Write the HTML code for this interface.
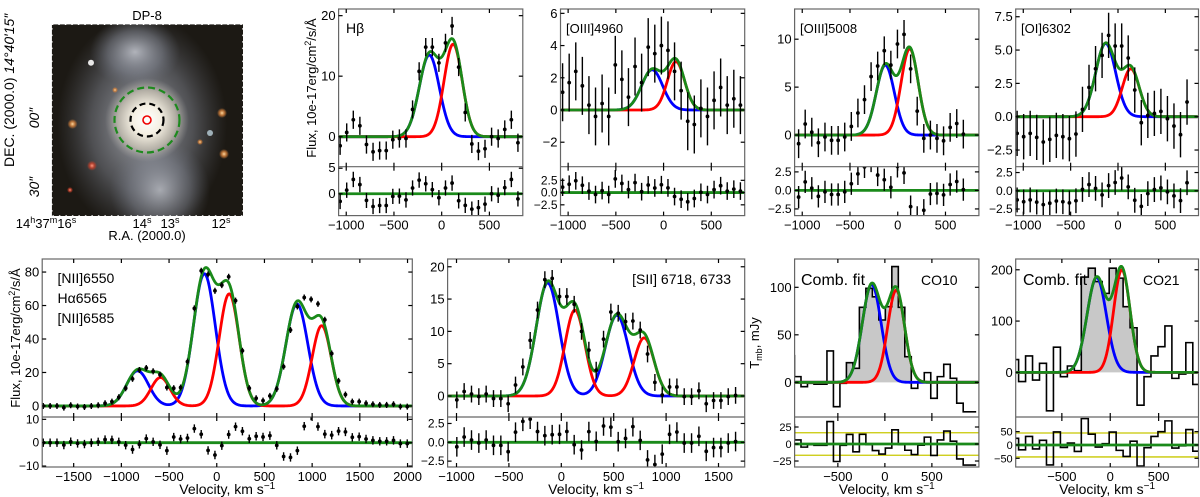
<!DOCTYPE html>
<html><head><meta charset="utf-8"><style>
html,body{margin:0;padding:0;background:#fff;}
svg{display:block;font-family:"Liberation Sans","DejaVu Sans",sans-serif;}
</style></head><body>
<svg id="fig" width="1200" height="497" viewBox="0 0 1200 497" xmlns="http://www.w3.org/2000/svg">
<defs>
<radialGradient id="halo" cx="50%" cy="50%" r="50%"><stop offset="0" stop-color="#c4c7cf" stop-opacity="0.85"/><stop offset="0.6" stop-color="#8e93a0" stop-opacity="0.45"/><stop offset="1" stop-color="#6a6f7c" stop-opacity="0"/></radialGradient>
<radialGradient id="core" cx="50%" cy="50%" r="50%"><stop offset="0" stop-color="#ffffff"/><stop offset="0.35" stop-color="#f4efe2"/><stop offset="0.7" stop-color="#cfc8b8" stop-opacity="0.7"/><stop offset="1" stop-color="#a9a9a9" stop-opacity="0"/></radialGradient>
<radialGradient id="star" cx="50%" cy="50%" r="50%"><stop offset="0" stop-color="#ffd9a0"/><stop offset="0.5" stop-color="#d9823a" stop-opacity="0.8"/><stop offset="1" stop-color="#d9823a" stop-opacity="0"/></radialGradient>
<radialGradient id="rstar" cx="50%" cy="50%" r="50%"><stop offset="0" stop-color="#ff9a80"/><stop offset="0.5" stop-color="#c8402a" stop-opacity="0.8"/><stop offset="1" stop-color="#c8402a" stop-opacity="0"/></radialGradient>
<clipPath id="imgclip"><rect x="51.8" y="24.3" width="191.2" height="191.7"/></clipPath>
</defs>

<g>
<text x="147" y="20" font-size="13" text-anchor="middle">DP-8</text>
<g clip-path="url(#imgclip)">
<rect x="51.8" y="24.3" width="191.2" height="191.7" fill="#1c1914"/>
<ellipse cx="142" cy="125" rx="85" ry="110" fill="url(#halo)"/>
<ellipse cx="135" cy="52" rx="45" ry="35" fill="url(#halo)"/>
<ellipse cx="160" cy="190" rx="50" ry="50" fill="url(#halo)" opacity="0.9"/>
<circle cx="147" cy="120" r="42" fill="url(#core)"/>
<circle cx="91" cy="62.7" r="3" fill="#e8e8e8"/>
<circle cx="72.5" cy="124" r="5" fill="url(#star)"/>
<circle cx="92" cy="165.7" r="5" fill="url(#rstar)"/>
<circle cx="222" cy="113" r="5" fill="url(#star)"/>
<circle cx="224" cy="154" r="5" fill="url(#star)"/>
<circle cx="115" cy="90" r="3" fill="url(#star)"/>
<circle cx="200" cy="142" r="3" fill="url(#star)"/>
<circle cx="210" cy="133" r="3" fill="#9fb0b8"/>
<circle cx="70" cy="190" r="3" fill="url(#rstar)"/>
</g>
<rect x="51.8" y="24.3" width="191.2" height="191.7" fill="none" stroke="#fff" stroke-width="1.5" stroke-dasharray="1.5 5"/>
<circle cx="147" cy="120" r="32.5" fill="none" stroke="#1e8a1e" stroke-width="2.2" stroke-dasharray="7 4"/>
<circle cx="147" cy="120" r="16.5" fill="none" stroke="#000" stroke-width="2.2" stroke-dasharray="6 4"/>
<circle cx="147" cy="120" r="4" fill="none" stroke="#e00" stroke-width="1.6"/>
<text transform="translate(14,167) rotate(-90)" font-size="14">DEC. (2000.0) <tspan font-style="italic">14°40′15″</tspan></text>
<text transform="translate(39,118) rotate(-90)" font-size="14" font-style="italic" text-anchor="middle">00″</text>
<text transform="translate(39,187) rotate(-90)" font-size="14" font-style="italic" text-anchor="middle">30″</text>
<text x="46" y="228" font-size="13" text-anchor="middle">14<tspan font-size="9" dy="-5">h</tspan><tspan dy="5">37</tspan><tspan font-size="9" dy="-5">m</tspan><tspan dy="5">16</tspan><tspan font-size="9" dy="-5">s</tspan></text>
<text x="142" y="228" font-size="13" text-anchor="middle">14<tspan font-size="9" dy="-5">s</tspan></text>
<text x="170" y="228" font-size="13" text-anchor="middle">13<tspan font-size="9" dy="-5">s</tspan></text>
<text x="221" y="228" font-size="13" text-anchor="middle">12<tspan font-size="9" dy="-5">s</tspan></text>
<text x="147" y="240" font-size="13" text-anchor="middle">R.A. (2000.0)</text>
</g>

<text transform="translate(316,88) rotate(-90)" font-size="13" text-anchor="middle">Flux, 10e-17erg/cm<tspan font-size="9" dy="-5">2</tspan><tspan dy="5">/s/Å</tspan></text>
<text transform="translate(20,338) rotate(-90)" font-size="13" text-anchor="middle">Flux, 10e-17erg/cm<tspan font-size="9" dy="-5">2</tspan><tspan dy="5">/s/Å</tspan></text>
<text transform="translate(759,343) rotate(-90)" font-size="13" text-anchor="middle">T<tspan font-size="9" dy="3">mb</tspan><tspan dy="-3">, mJy</tspan></text>
</svg>

<script>
// ---------- DATA ----------
// H-beta
const hbVelStart = -1064, hbVelStep = 69;
const hbFlux = [-1.5,0.7,2.8,1.8,-1.3,-2.5,-2.3,-2.3,-0.5,-0.3,-0.3,4.5,10.8,14.8,14.8,12.2,15.5,18.3,11.5,4,-1.2,-2.4,-2,0,-0.3,1.2,2.8,-1];
const hbBlue = [[13.5,-130,105]];
const hbRed = [[15.3,120,95]];
// [OIII]4960
const o4VelStart = -1058, o4VelStep = 69;
const o4Flux = [1.1,1.7,2.4,1.5,0.3,-0.4,0.4,-0.4,2.8,1.9,0.8,2.7,1.7,3.9,3.5,4.0,3.7,2.4,1.2,-0.7,-0.9,0.1,-0.4,0.6,1.4,0.3,0.7,0.3];
const o4Blue = [[2.5,-120,110]];
const o4Red = [[3.0,130,90]];
// [OIII]5008
const o5VelStart = -1038, o5VelStep = 69;
const o5Flux = [-0.9,1.15,0.3,-0.8,-0.2,-0.55,-0.55,-0.2,0.9,2.3,3.7,6.1,7.2,8.8,7.3,9.5,10.5,6.9,2.5,-0.35,0,-0.35,-0.6,0.8,1.2,0.1];
const o5Blue = [[7.3,-130,95]];
const o5Red = [[9.0,125,90]];
// [OI]6302
const oiVelStart = -1065, oiVelStep = 69;
const oiFlux = [-1.25,-1.5,-1.25,-1.55,-1.9,-1.7,-1.4,-1.5,-1.65,-1.3,0.55,2.2,3.6,4.6,6.1,5.3,5.3,4.4,2.0,-0.45,0.1,0.25,0.4,-0.15,-0.7,-1.35,1.1];
const oiBlue = [[5.5,-130,105]];
const oiRed = [[3.6,135,90]];
// [NII]+Halpha
const niVelStart = -1819, niVelStep = 72;
const niFlux = [0,0,0,-1,0.4,-0.3,-0.6,0,0.4,1.6,2.6,5.2,10.6,16.2,21.5,22.7,20.7,18.7,11,10.6,11,26.5,58.3,80.8,78.6,68.8,72.2,77.2,62.9,33,10.6,4.6,3.2,6,10.2,23.5,45.4,59.4,64.8,63.7,61,51.5,31.3,15,6.8,2.6,2.6,1.6,1,0.6,0.6,1,-0.4,-0.4,0.2];
const niBlue = [[21,-830,115],[79,-130,115],[61,840,115]];
const niRed = [[17,-590,100],[67,130,105],[48,1100,100]];
// [SII]
const siVelStart = -997, siVelStep = 70;
const siFlux = [-0.6,0.7,0.3,-0.1,0.3,-0.4,-0.4,-1.2,1.7,4.5,8.6,13.3,18,18.2,15.4,15.4,14.2,10,7.1,4,8.8,13,12.8,11.5,11.6,10.2,6.5,2.1,0.15,1.4,1.4,-0.1,-0.1,0.8,-1.2,-0.7,-0.7,-0.1,0.1];
const siBlue = [[17.5,-130,110],[12.5,530,110]];
const siRed = [[13.3,130,95],[9,790,95]];
// CO10 histogram
const c1BinStart = -1030, c1BinWidth = 69;
const c1Tmb = [28,6,-4.6,-1,-2,-2,33,-25.6,-1,20.7,14.7,79,99,90,65.6,79.6,121.8,79,27,-6.3,-0.4,10.2,-16.8,6,19,4.2,-22,-31,-31];
const c1Shaded = [9,18];
const c1Blue = [[103,-140,100]];
const c1Red = [[97,120,90]];
const c1Noise = 16.5;
// CO21 histogram
const c2BinStart = -1019, c2BinWidth = 72;
const c2Tmb = [25,-18,32,-15,17.6,-75,49,-8.5,12.4,3.3,185.7,203,177,154,203,183.7,128,87,-64,-8.5,32,50,90.5,-11.7,-3.3,58,-23.5];
const c2Shaded = [10,17];
const c2Blue = [[185,-140,100]];
const c2Red = [[200,120,85]];
const c2Noise = 45;
// tick values
const topXTicks = [-1000,-500,0,500];
const hbYTicks = [0,10,20], hbRTicks = [0,5];
const o4YTicks = [-2,0,2,4,6], o4RTicks = [-2.5,0,2.5];
const o5YTicks = [0,5,10], o5RTicks = [-2.5,0,2.5];
const oiYTicks = [-2.5,0,2.5,5,7.5], oiRTicks = [-2.5,0,2.5];
const niXTicks = [-1500,-1000,-500,0,500,1000,1500,2000], niYTicks = [0,20,40,60,80], niRTicks = [-10,0,10];
const siXTicks = [-1000,-500,0,500,1000,1500], siYTicks = [0,5,10,15,20], siRTicks = [-2.5,0,2.5];
const coXTicks = [-500,0,500];
const c1YTicks = [0,50,100], c1RTicks = [-25,0,25];
const c2YTicks = [0,100,200], c2RTicks = [-50,0,50];

// ---------- DRAWING ----------
const NS = 'http://www.w3.org/2000/svg';
const svg = document.getElementById('fig');
let clipId = 0;
function mk(tag, attrs, parent){ const e=document.createElementNS(NS,tag); for(const k in attrs) e.setAttribute(k,attrs[k]); (parent||svg).appendChild(e); return e; }
function gsum(comps, v){ let s=0; for(const c of comps) s+=c[0]*Math.exp(-(v-c[1])*(v-c[1])/(2*c[2]*c[2])); return s; }
function fmt(t, dec){ const s = dec ? t.toFixed(1) : String(t); return s.replace('-','\u2212'); }

function drawPanel(c){
  const g = mk('g',{});
  
  
  const W = c.x1-c.x0;
  const X = v => c.x0 + (v-c.xlim[0])/(c.xlim[1]-c.xlim[0])*W;
  const Y = v => c.yS - (v-c.ylim[0])/(c.ylim[1]-c.ylim[0])*(c.yS-c.yT);
  const R = v => c.yB - (v-c.rlim[0])/(c.rlim[1]-c.rlim[0])*(c.yB-c.yS);
  const id1 = 'cp'+(clipId++), id2='cp'+(clipId++);
  const defs = mk('defs',{},g);
  const cp1 = mk('clipPath',{id:id1},defs); mk('rect',{x:c.x0,y:c.yT,width:W,height:c.yS-c.yT},cp1);
  const cp2 = mk('clipPath',{id:id2},defs); mk('rect',{x:c.x0,y:c.yS,width:W,height:c.yB-c.yS},cp2);
  const main = mk('g',{'clip-path':'url(#'+id1+')'},g);
  const res = mk('g',{'clip-path':'url(#'+id2+')'},g);
  const model = v => gsum(c.blue,v)+gsum(c.red,v);

  if(c.hist){
    const vals = c.hist, n = vals.length;
    const edge = i => c.binStart + c.binWidth*i;
    let fd = 'M'+X(edge(c.shaded[0]))+','+Y(0);
    for(let i=c.shaded[0];i<=c.shaded[1];i++){ fd += ' L'+X(edge(i))+','+Y(vals[i])+' L'+X(edge(i+1))+','+Y(vals[i]); }
    fd += ' L'+X(edge(c.shaded[1]+1))+','+Y(0)+' Z';
    const fill = mk('path',{d:fd,fill:'#c8c8c8',stroke:'none'},main);
    
    
    let hd = '', rd = '';
    for(let i=0;i<n;i++){
      const v = vals[i], r = vals[i]-model(edge(i)+c.binWidth/2);
      hd += (i===0?'M':' L')+X(edge(i))+','+Y(v)+' L'+X(edge(i+1))+','+Y(v);
      rd += (i===0?'M':' L')+X(edge(i))+','+R(r)+' L'+X(edge(i+1))+','+R(r);
    }
    const h = mk('path',{d:hd,fill:'none',stroke:'#000','stroke-width':1.6},main);
    
    
    for(const s of [c.noise,-c.noise]){
      const yl = mk('line',{x1:c.x0,x2:c.x1,y1:R(s),y2:R(s),stroke:'#c8c800','stroke-width':1.3},res);
      
      
    }
    const rh = mk('path',{d:rd,fill:'none',stroke:'#000','stroke-width':1.6},res);
    
    
  }
  const curves = [['blue',v=>gsum(c.blue,v),'#0000ff'],['red',v=>gsum(c.red,v),'#ff0000'],['total',model,'#1a8a1a']];
  for(const [nm,f,col] of curves){
    let d=''; let started=false;
    for(let px=c.x0; px<=c.x1; px+=1){
      const v = c.xlim[0] + (px-c.x0)/W*(c.xlim[1]-c.xlim[0]);
      d += (started?' L':'M')+px+','+Y(f(v)).toFixed(2); started=true;
    }
    const p = mk('path',{d:d,fill:'none',stroke:col,'stroke-width':2.8,'stroke-linejoin':'round'},main);
    
    
  }
  const zl = mk('line',{x1:c.x0,x2:c.x1,y1:R(0),y2:R(0),stroke:'#1a8a1a','stroke-width':2.8},res);
  
  
  if(c.flux){
    for(let i=0;i<c.flux.length;i++){
      const v = c.vStart + c.vStep*i, f = c.flux[i], r = f - model(v);
      const pt = mk('g',{},main);
      
      
      mk('line',{x1:X(v),x2:X(v),y1:Y(f-c.err),y2:Y(f+c.err),stroke:'#000','stroke-width':1.4},pt);
      mk('circle',{cx:X(v),cy:Y(f),r:1.9,fill:'#000'},pt);
      const rp = mk('g',{},res);
      
      
      mk('line',{x1:X(v),x2:X(v),y1:R(r-c.err),y2:R(r+c.err),stroke:'#000','stroke-width':1.4},rp);
      mk('circle',{cx:X(v),cy:R(r),r:1.9,fill:'#000'},rp);
    }
  }
  mk('rect',{x:c.x0,y:c.yT,width:W,height:c.yB-c.yT,fill:'none',stroke:'#666','stroke-width':1.2},g);
  mk('line',{x1:c.x0,x2:c.x1,y1:c.yS,y2:c.yS,stroke:'#666','stroke-width':1.2},g);
  for(const t of c.xticks){
    const x = X(t);
    for(const yy of [c.yT,c.yS]) mk('line',{x1:x,x2:x,y1:yy,y2:yy+4,stroke:'#000','stroke-width':1.2},g);
    for(const yy of [c.yS,c.yB]) mk('line',{x1:x,x2:x,y1:yy-4,y2:yy,stroke:'#000','stroke-width':1.2},g);
    const tl = mk('text',{x:x,y:c.yB+14,'font-size':13,'text-anchor':'middle'},g);
    tl.textContent = fmt(t,false);
    
    
  }
  for(const t of c.yticks){
    const y = Y(t);
    mk('line',{x1:c.x0,x2:c.x0+4,y1:y,y2:y,stroke:'#000','stroke-width':1.2},g);
    mk('line',{x1:c.x1-4,x2:c.x1,y1:y,y2:y,stroke:'#000','stroke-width':1.2},g);
    const tl = mk('text',{x:c.x0-3,y:y+4.5,'font-size':13,'text-anchor':'end'},g);
    tl.textContent = fmt(t,c.ydec);
    
    
  }
  for(const t of c.rticks){
    const y = R(t);
    mk('line',{x1:c.x0,x2:c.x0+4,y1:y,y2:y,stroke:'#000','stroke-width':1.2},g);
    mk('line',{x1:c.x1-4,x2:c.x1,y1:y,y2:y,stroke:'#000','stroke-width':1.2},g);
    const tl = mk('text',{x:c.x0-3,y:y+4,'font-size':c.rsize||12,'text-anchor':'end'},g);
    tl.textContent = fmt(t,c.rdec);
    
    
  }
  for(const L of c.labels){
    const t = mk('text',{x:L[1],y:L[2],'font-size':L[3],'text-anchor':L[4]||'start'},g);
    t.textContent = L[0];
    
    
  }
  if(c.xtitle){
    const t = mk('text',{x:(c.x0+c.x1)/2,y:c.yB+27,'font-size':14,'text-anchor':'middle'},g);
    t.textContent = 'Velocity, km s';
    const sup = mk('tspan',{'font-size':10,dy:-5},t); sup.textContent='\u22121';
    
    
  }
}

const topR = {yT:9, yS:166.7, yB:215.6, xlim:[-1080,850], xticks:topXTicks};
const botR = {yT:259, yS:417, yB:467, xtitle:true};

drawPanel(Object.assign({name:'hbeta', x0:338.6, x1:522.8, ylim:[-4.96,21.1], rlim:[-4.28,5.3], yticks:hbYTicks, rticks:hbRTicks, rsize:13,
  flux:hbFlux, vStart:hbVelStart, vStep:hbVelStep, err:1.5, blue:hbBlue, red:hbRed, labels:[['Hβ',346,33,14]]}, topR));
drawPanel(Object.assign({name:'oiii4960', x0:560.5, x1:744.7, ylim:[-3.52,6.27], rlim:[-4.7,5.28], yticks:o4YTicks, rticks:o4RTicks, rdec:true,
  flux:o4Flux, vStart:o4VelStart, vStep:o4VelStep, err:1.8, blue:o4Blue, red:o4Red, labels:[['[OIII]4960',566,33,13]]}, topR));
drawPanel(Object.assign({name:'oiii5008', x0:794.6, x1:978.9, ylim:[-3.3,13.15], rlim:[-3.4,3.2], yticks:o5YTicks, rticks:o5RTicks, rdec:true,
  flux:o5Flux, vStart:o5VelStart, vStep:o5VelStep, err:1.5, blue:o5Blue, red:o5Red, labels:[['[OIII]5008',800,33,13]]}, topR));
drawPanel(Object.assign({name:'oi6302', x0:1015.7, x1:1198.5, ylim:[-3.75,8.08], rlim:[-3.4,3.3], yticks:oiYTicks, rticks:oiRTicks, ydec:true, rdec:true,
  flux:oiFlux, vStart:oiVelStart, vStep:oiVelStep, err:1.7, blue:oiBlue, red:oiRed, labels:[['[OI]6302',1021,33,13]]}, topR));

drawPanel(Object.assign({name:'nii-halpha', x0:42.2, x1:412.3, xlim:[-1830,2050], xticks:niXTicks, ylim:[-6.6,87.8], rlim:[-10.4,11], yticks:niYTicks, rticks:niRTicks,
  flux:niFlux, vStart:niVelStart, vStep:niVelStep, err:1.8, blue:niBlue, red:niRed,
  labels:[['[NII]6550',57.5,283,14],['Hα6565',57.5,303,14],['[NII]6585',57.5,323,14]]}, botR));
drawPanel(Object.assign({name:'sii', x0:447.6, x1:744.7, xlim:[-1085,1750], xticks:siXTicks, ylim:[-3.25,21.2], rlim:[-3.28,3.36], yticks:siYTicks, rticks:siRTicks, rdec:true,
  flux:siFlux, vStart:siVelStart, vStep:siVelStep, err:1.3, blue:siBlue, red:siRed,
  labels:[['[SII] 6718, 6733',731,284,14,'end']]}, botR));
drawPanel(Object.assign({name:'co10', x0:794.6, x1:978.9, xlim:[-960,1000], xticks:coXTicks, ylim:[-36.5,129.8], rlim:[-33.8,39.7], yticks:c1YTicks, rticks:c1RTicks, rsize:11,
  hist:c1Tmb, binStart:c1BinStart, binWidth:c1BinWidth, shaded:c1Shaded, noise:c1Noise, blue:c1Blue, red:c1Red,
  labels:[['Comb. fit',801,285,16],['CO10',921,285,14]]}, botR));
drawPanel(Object.assign({name:'co21', x0:1015.7, x1:1198.5, xlim:[-977,912], xticks:coXTicks, ylim:[-87,221], rlim:[-82.7,105], yticks:c2YTicks, rticks:c2RTicks, rsize:11,
  hist:c2Tmb, binStart:c2BinStart, binWidth:c2BinWidth, shaded:c2Shaded, noise:c2Noise, blue:c2Blue, red:c2Red,
  labels:[['Comb. fit',1023,285,16],['CO21',1143,285,14]]}, botR));
</script>
</body></html>
